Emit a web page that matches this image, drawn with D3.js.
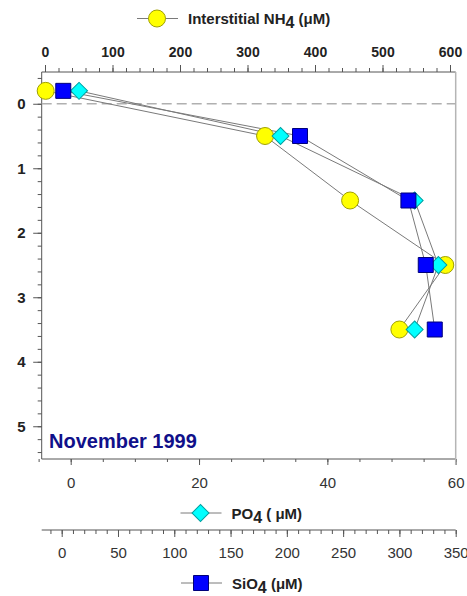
<!DOCTYPE html>
<html>
<head>
<meta charset="utf-8">
<script src="https://cdn.jsdelivr.net/npm/d3@7"></script>
<style>
  body { margin: 0; background: #fff; }
  svg { display: block; font-family: "Liberation Sans", Arial, sans-serif; }
</style>
</head>
<body>
<div id="chart"></div>
<script>
// Sampling depths and concentrations (November 1999)
const depths = [-0.2, 0.5, 1.5, 2.5, 3.5];
const nh4 = [1, 326, 452, 593, 525];
const po4 = [1.3, 32.7, 53.6, 57.3, 53.6];
const sio4 = [1.4, 211.7, 308, 323.4, 331.4];

const depthTicks = [0, 1, 2, 3, 4, 5];
const nh4Ticks = [0, 100, 200, 300, 400, 500, 600];
const po4Ticks = [0, 20, 40, 60];
const sio4Ticks = [0, 50, 100, 150, 200, 250, 300, 350];

const width = 467, height = 596;
const box = { left: 41.7, right: 455.7, top: 72, bottom: 459 };
const colors = {
  line: "#7a7a7a",
  axis: "#555",
  nh4: "#ffff00", nh4Stroke: "#a0a000",
  po4: "#00ffff", po4Stroke: "#00a0a0",
  sio4: "#0000ff", sio4Stroke: "#00007a",
  title: "#10108a"
};

const svg = d3.select("#chart").append("svg")
  .attr("width", width)
  .attr("height", height);

const y = d3.scaleLinear().domain([-0.5, 5.5]).range([71.5, 458.5]);
const xN = d3.scaleLinear().domain([0, 600]).range([45, 450]);
const xP = d3.scaleLinear().domain([0, 60]).range([70.7, 455.7]);
const xS = d3.scaleLinear().domain([0, 350]).range([61.7, 455.7]);

// helper: major + minor ticks without the domain line
function drawAxis(axisFn, scale, pos, major, minor, majorLen, minorLen, fmt) {
  const g = svg.append("g").attr("transform", pos);
  g.append("g").call(axisFn(scale).tickValues(minor).tickSize(minorLen).tickFormat(""));
  g.append("g").call(axisFn(scale).tickValues(major).tickSize(majorLen).tickFormat(fmt));
  g.selectAll(".domain").remove();
  g.selectAll(".tick line").attr("stroke", colors.axis);
  return g;
}

// Top axis (NH4)
const gTop = drawAxis(d3.axisTop, xN, `translate(0,${box.top})`,
  nh4Ticks, d3.range(0, 601, 20), 7, 4, d3.format("d"));
gTop.selectAll(".tick text")
  .attr("font-size", 14).attr("font-weight", "bold").attr("fill", "#222")
  .attr("font-family", "Liberation Sans, Arial, sans-serif")
  .attr("y", -15);

// Left axis (depth)
const minorDepth = d3.range(-0.4, 5.41, 0.2).map(d => +d.toFixed(1));
const gLeft = drawAxis(d3.axisLeft, y, `translate(${box.left},0)`,
  depthTicks, minorDepth, 8.5, 4, d3.format("d"));
gLeft.selectAll(".tick text")
  .attr("font-size", 15).attr("font-weight", "bold").attr("fill", "#222")
  .attr("font-family", "Liberation Sans, Arial, sans-serif")
  .attr("x", -16);

// Bottom axis (PO4)
const gP = drawAxis(d3.axisBottom, xP, `translate(0,${box.bottom})`,
  po4Ticks, d3.range(-5, 61, 5), 6, 3, d3.format("d"));
gP.selectAll(".tick text")
  .attr("font-size", 15).attr("fill", "#333")
  .attr("font-family", "Liberation Sans, Arial, sans-serif")
  .attr("y", 18);

// Second bottom axis (SiO4)
const sioY = 530;
svg.append("line")
  .attr("x1", box.left).attr("x2", box.right)
  .attr("y1", sioY).attr("y2", sioY)
  .attr("stroke", colors.axis);
const gS = drawAxis(d3.axisBottom, xS, `translate(0,${sioY})`,
  sio4Ticks, d3.range(-10, 351, 10), 7, 4, d3.format("d"));
gS.selectAll(".tick text")
  .attr("font-size", 15).attr("fill", "#333")
  .attr("font-family", "Liberation Sans, Arial, sans-serif")
  .attr("y", 17);

// Plot frame
svg.append("line").attr("x1", box.left).attr("x2", box.right)
  .attr("y1", box.top).attr("y2", box.top).attr("stroke", colors.axis);
svg.append("line").attr("x1", box.left).attr("x2", box.right)
  .attr("y1", box.bottom).attr("y2", box.bottom).attr("stroke", colors.axis);
svg.append("line").attr("x1", box.left).attr("x2", box.left)
  .attr("y1", box.top).attr("y2", box.bottom).attr("stroke", colors.axis);
svg.append("line").attr("x1", box.right).attr("x2", box.right)
  .attr("y1", box.top).attr("y2", box.bottom + 6)
  .attr("stroke", "#b5b5b5").attr("stroke-width", 1.5);

// Sediment surface (depth 0)
svg.append("line")
  .attr("x1", box.left).attr("x2", box.right)
  .attr("y1", y(0)).attr("y2", y(0))
  .attr("stroke", "#b0b0b0").attr("stroke-width", 1.6)
  .attr("stroke-dasharray", "10,5");

// Profile lines
const series = [
  { vals: nh4, x: xN },
  { vals: po4, x: xP },
  { vals: sio4, x: xS }
];
series.forEach(s => {
  const line = d3.line().x(d => s.x(d[0])).y(d => y(d[1]));
  svg.append("path")
    .datum(s.vals.map((v, i) => [v, depths[i]]))
    .attr("fill", "none")
    .attr("stroke", colors.line)
    .attr("stroke-width", 1)
    .attr("d", line);
});

// Markers
const circleSym = d3.symbol().type(d3.symbolCircle).size(Math.PI * 8.5 * 8.5);
const diamondSym = d3.symbol().type(d3.symbolSquare).size(12 * 12);
const squareSym = d3.symbol().type(d3.symbolSquare).size(15 * 15);

function drawCircle(g, cx, cy) {
  g.append("path").attr("d", circleSym)
    .attr("transform", `translate(${cx},${cy})`)
    .attr("fill", colors.nh4).attr("stroke", colors.nh4Stroke);
}
function drawDiamond(g, cx, cy) {
  g.append("path").attr("d", diamondSym)
    .attr("transform", `translate(${cx},${cy}) rotate(45)`)
    .attr("fill", colors.po4).attr("stroke", colors.po4Stroke);
}
function drawSquare(g, cx, cy) {
  g.append("path").attr("d", squareSym)
    .attr("transform", `translate(${cx},${cy})`)
    .attr("fill", colors.sio4).attr("stroke", colors.sio4Stroke);
}

const marks = svg.append("g");
nh4.forEach((v, i) => drawCircle(marks, xN(v), y(depths[i])));
po4.forEach((v, i) => drawDiamond(marks, xP(v), y(depths[i])));
sio4.forEach((v, i) => drawSquare(marks, xS(v), y(depths[i])));

// Legends
function legend(cx, cy, drawFn, label) {
  const g = svg.append("g");
  g.append("line").attr("x1", cx - 20).attr("x2", cx + 21)
    .attr("y1", cy).attr("y2", cy).attr("stroke", colors.line);
  drawFn(g, cx, cy);
  const t = g.append("text")
    .attr("x", cx + 31).attr("y", cy + 5.5)
    .attr("font-size", 15).attr("font-weight", "bold").attr("fill", "#222");
  t.append("tspan").text(label[0]);
  t.append("tspan").attr("dy", 4).attr("font-size", 16).text("4");
  t.append("tspan").attr("dy", -4).text(label[1]);
}
legend(157, 18.5, drawCircle, ["Interstitial NH", " (\u03BCM)"]);
legend(200.5, 513, drawDiamond, ["PO", " ( \u03BCM)"]);
legend(201, 583, drawSquare, ["SiO", " (\u03BCM)"]);

// Sampling date
svg.append("text")
  .attr("x", 49).attr("y", 448)
  .attr("font-size", 20).attr("font-weight", "bold")
  .attr("fill", colors.title)
  .text("November 1999");
</script>
</body>
</html>
